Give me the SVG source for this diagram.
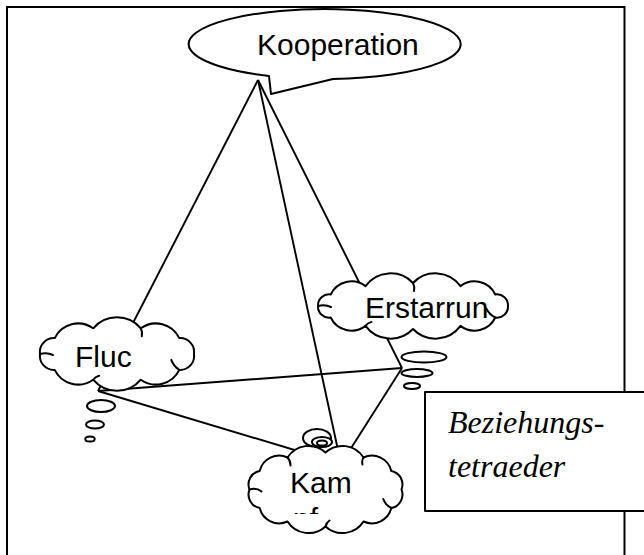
<svg xmlns="http://www.w3.org/2000/svg" width="644" height="555" viewBox="0 0 644 555">
<style>
.frame{fill:none;stroke:#000;stroke-width:2}
.conn{stroke:#000;stroke-width:1.9;fill:none}
.shape{fill:#fff;stroke:#000;stroke-width:2;stroke-linejoin:round}
.curl{fill:none;stroke:#000;stroke-width:2;stroke-linecap:round}
.lbl{font-family:"Liberation Sans",Arial,sans-serif;font-size:30px;fill:#000}
.script{font-family:"Liberation Serif","Times New Roman",serif;font-style:italic;font-size:32px;fill:#000}
</style>
<defs>
<clipPath id="kamclip"><rect x="280" y="497" width="60" height="17"/></clipPath>
</defs>
<rect width="644" height="555" fill="#fff"/>
<path class="frame" d="M7,560 V7 H624.5 V560"/>
<g id="connectors">
<line class="conn" x1="258" y1="80" x2="98" y2="391"/>
<line class="conn" x1="258" y1="80" x2="402" y2="368"/>
<line class="conn" x1="258" y1="80" x2="341" y2="464"/>
<line class="conn" x1="98" y1="391" x2="402" y2="368"/>
<line class="conn" x1="98" y1="391" x2="341" y2="464"/>
<line class="conn" x1="402" y1="368" x2="341" y2="464"/>
</g>
<g id="kooperation">
<path class="shape" d="M269,76 L271,94 L333,79 A136,35 0 1 0 269,76 Z"/>
<text class="lbl" x="257" y="55">Kooperation</text>
</g>
<g id="kampf">
<ellipse class="shape" cx="317" cy="438" rx="14" ry="9"/>
<ellipse class="shape" cx="322" cy="442" rx="10" ry="5"/>
<ellipse class="shape" cx="322" cy="443" rx="5" ry="2.5"/>
<path class="shape" d="M401.5,489.5 A13.7,13.7 0 0 1 391.3,508 A20,20 0 0 1 363.5,521.5 A25,25 0 0 1 325.5,526.5 A25,25 0 0 1 287.5,521.5 A20,20 0 0 1 259.7,508 A13.7,13.7 0 0 1 249.5,489.5 A13.7,13.7 0 0 1 259.7,471 A20,20 0 0 1 287.5,457.5 A25,25 0 0 1 325.5,452.5 A25,25 0 0 1 363.5,457.5 A20,20 0 0 1 391.3,471 A13.7,13.7 0 0 1 401.5,489.5 Z"/>
<path class="curl" d="M249.5,489.5 q7,-2 12,2 M287.5,457.5 q3,3 3,8 M363.5,457.5 q-2,3 -1,7 M391.3,508 q-6,-3 -8,-9 M325.5,526.5 q1,-4 4,-6"/>
<text class="lbl" x="290" y="493">Kam</text>
<text class="lbl" x="293" y="529" clip-path="url(#kamclip)">pf</text>
</g>
<g id="fluc">
<path class="shape" d="M194,354 A14,14 0 0 1 179.3,369.9 A26,26 0 0 1 140.8,379.7 A31,31 0 0 1 93.2,379.7 A26,26 0 0 1 54.7,369.9 A14,14 0 0 1 40,354 A14,14 0 0 1 54.7,338.1 A26,26 0 0 1 93.2,328.3 A31,31 0 0 1 140.8,328.3 A26,26 0 0 1 179.3,338.1 A14,14 0 0 1 194,354 Z"/>
<path class="curl" d="M40,354 q7,-2 13,1 M140.8,328.3 q2,4 1,8 M179.3,369.9 q-6,-4 -8,-10 M93.2,379.7 q2,-3 6,-4"/>
<ellipse class="shape" cx="101" cy="406" rx="14" ry="6"/>
<ellipse class="shape" cx="95" cy="424.5" rx="9" ry="4"/>
<ellipse class="shape" cx="90" cy="439" rx="4.7" ry="2.5"/>
<text class="lbl" x="75" y="367">Fluc</text>
</g>
<g id="erstarrung">
<path class="shape" d="M508,306 A11,11 0 0 1 495.3,317.5 A23,23 0 0 1 460.5,325.9 A31,31 0 0 1 413,329 A31,31 0 0 1 365.5,325.9 A23,23 0 0 1 330.7,317.5 A11,11 0 0 1 318,306 A11,11 0 0 1 330.7,294.5 A23,23 0 0 1 365.5,286.1 A31,31 0 0 1 413,283 A31,31 0 0 1 460.5,286.1 A23,23 0 0 1 495.3,294.5 A11,11 0 0 1 508,306 Z"/>
<path class="curl" d="M318,306 q7,-2 13,1 M413,283 q2,4 1,8 M495.3,317.5 q-6,-3 -9,-9 M365.5,325.9 q2,-3 6,-4"/>
<ellipse class="shape" cx="424" cy="357" rx="22.5" ry="5.5"/>
<ellipse class="shape" cx="417" cy="373" rx="15.5" ry="4"/>
<ellipse class="shape" cx="412" cy="386" rx="8" ry="3"/>
<text class="lbl" x="365" y="318">Erstarrun</text>
</g>
<g id="beziehungstetraeder">
<rect class="shape" x="425" y="392" width="240" height="119" stroke-linejoin="miter"/>
<text class="script" x="448" y="433">Beziehungs-</text>
<text class="script" x="448" y="477">tetraeder</text>
</g>
</svg>
